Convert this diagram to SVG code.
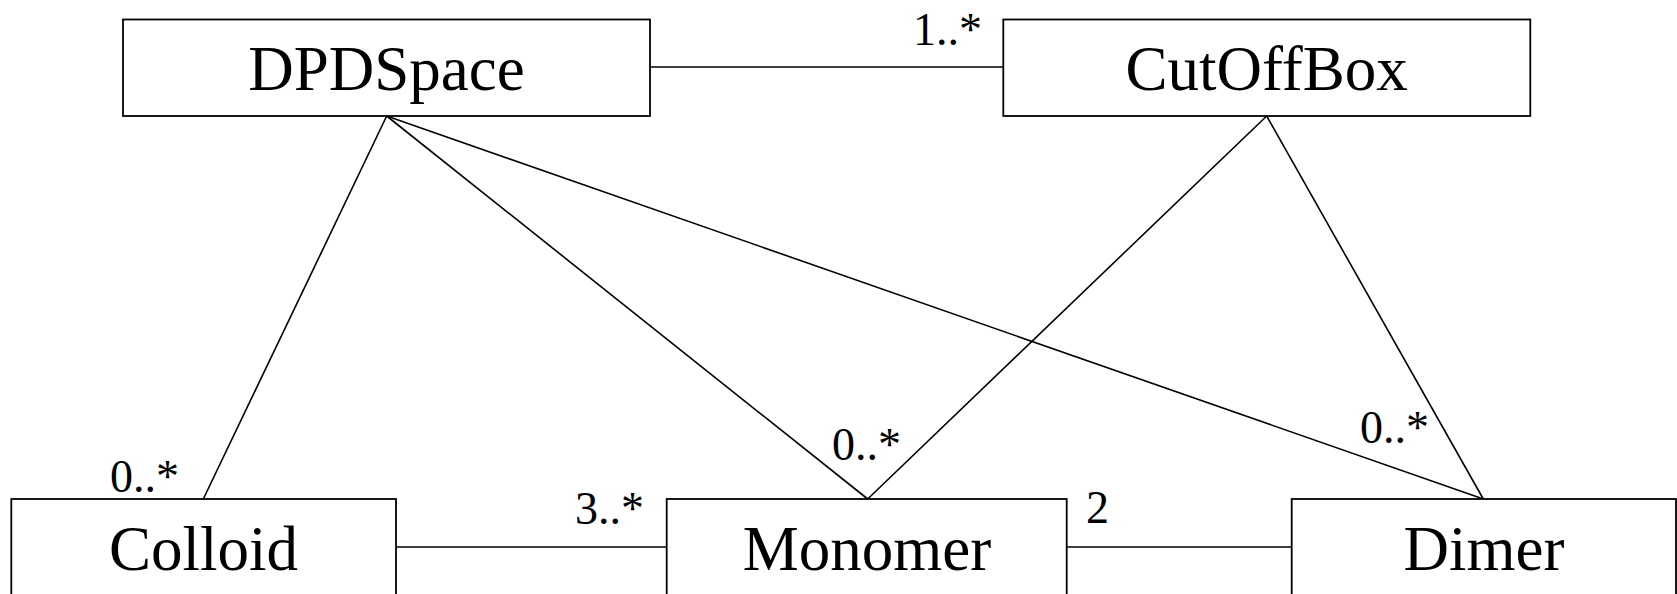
<svg xmlns="http://www.w3.org/2000/svg" width="1677" height="594" viewBox="0 0 1677 594">
<style>
.box{fill:#fff;stroke:#000;stroke-width:1.8}
.name{font-size:63px;text-anchor:middle;fill:#000}
.mult{font-size:46px;fill:#000}
.conn line{stroke:#000;stroke-width:1.6}
</style>
<rect width="1677" height="594" fill="#fff"/>
<g font-family="'Liberation Serif', 'Times New Roman', 'DejaVu Serif', serif">
<g class="conn" id="connectors">
<line x1="650" y1="67" x2="1003" y2="67"/>
<line x1="386.7" y1="116" x2="203.3" y2="499"/>
<line x1="386.7" y1="116" x2="867.7" y2="499"/>
<line x1="386.7" y1="116" x2="1483.3" y2="499"/>
<line x1="1266.7" y1="116" x2="867.7" y2="499"/>
<line x1="1266.7" y1="116" x2="1483.3" y2="499"/>
<line x1="396" y1="547" x2="667" y2="547"/>
<line x1="1067" y1="547" x2="1292" y2="547"/>
<text class="mult" x="913" y="45">1..*</text>
<text class="mult" x="110" y="492">0..*</text>
<text class="mult" x="575" y="524">3..*</text>
<text class="mult" x="832" y="460">0..*</text>
<text class="mult" x="1086" y="523">2</text>
<text class="mult" x="1360" y="443">0..*</text>
</g>
<g id="DPDSpace">
<rect class="box" x="123" y="19.5" width="527" height="96.5"/>
<text class="name" x="386.5" y="90">DPDSpace</text>
</g>
<g id="CutOffBox">
<rect class="box" x="1003.3" y="19.5" width="527" height="96.5"/>
<text class="name" x="1266.7" y="90">CutOffBox</text>
</g>
<g id="Colloid">
<rect class="box" x="11.3" y="499" width="384.7" height="140"/>
<text class="name" x="203.5" y="570">Colloid</text>
</g>
<g id="Monomer">
<rect class="box" x="666.7" y="499" width="400" height="140"/>
<text class="name" x="867" y="570">Monomer</text>
</g>
<g id="Dimer">
<rect class="box" x="1291.7" y="499" width="384.3" height="140"/>
<text class="name" x="1484" y="570">Dimer</text>
</g>
</g>
</svg>
